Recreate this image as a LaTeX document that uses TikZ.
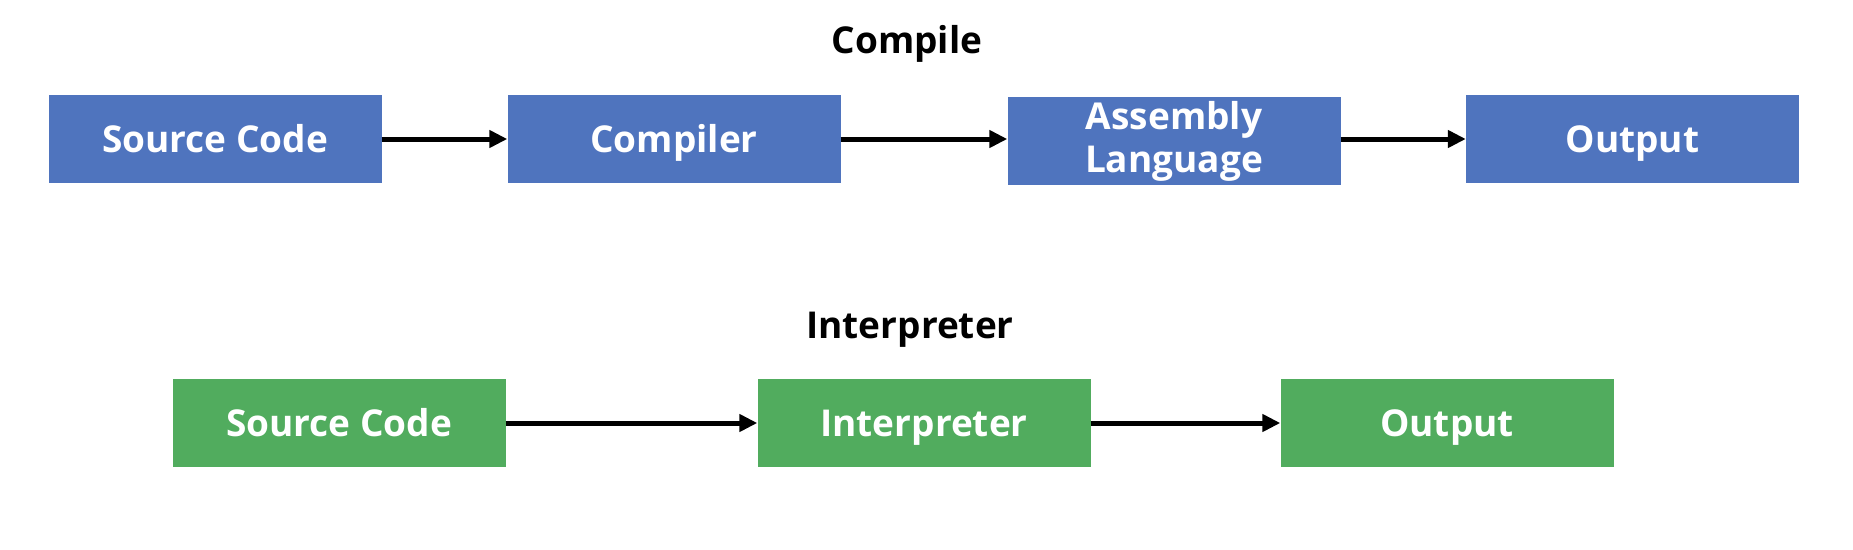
\documentclass[tikz,border=0pt]{standalone}
\usepackage{fontspec}
\setmainfont{Open Sans}[BoldFont={Open Sans Bold}]
\usetikzlibrary{arrows.meta}
\definecolor{boxblue}{RGB}{79,116,190}
\definecolor{boxgreen}{RGB}{81,172,94}
\begin{document}
\begin{tikzpicture}[x=1pt,y=-1pt,
  boxbase/.style={draw=none, minimum width=333pt, minimum height=88pt, inner sep=0pt,
    text=white, font=\fontsize{37}{43}\selectfont\bfseries},
  single/.style={text height=27pt, text depth=0pt},
  bluebox/.style={boxbase, fill=boxblue},
  greenbox/.style={boxbase, fill=boxgreen},
  title/.style={anchor=base, inner sep=0pt, font=\fontsize{37}{43}\selectfont\bfseries},
  arr/.style={line width=5pt, -{Triangle[length=18pt,width=17pt]}}
]
\useasboundingbox (0,0) rectangle (1853,549);
\fill[white] (0,0) rectangle (1853,549);

\node[title] (t1) at (907,53) {Compile};
\node[bluebox, single] (a1) at (215,139) {Source Code};
\node[bluebox, single] (a2) at (674,139) {Compiler};
\node[bluebox, align=center] (a3) at (1174,141) {Assembly\\Language};
\node[bluebox, single] (a4) at (1632.5,139) {Output};
\draw[arr] (a1.east) -- (a2.west);
\draw[arr] (a2.east) -- (a3.west |- a2.east);
\draw[arr] (a3.east |- a2.east) -- (a4.west);

\node[title] (t2) at (910,338) {Interpreter};
\node[greenbox, single] (b1) at (339,423) {Source Code};
\node[greenbox, single] (b2) at (924,423) {Interpreter};
\node[greenbox, single] (b3) at (1447,423) {Output};
\draw[arr] (b1.east) -- (b2.west);
\draw[arr] (b2.east) -- (b3.west);
\end{tikzpicture}
\end{document}
